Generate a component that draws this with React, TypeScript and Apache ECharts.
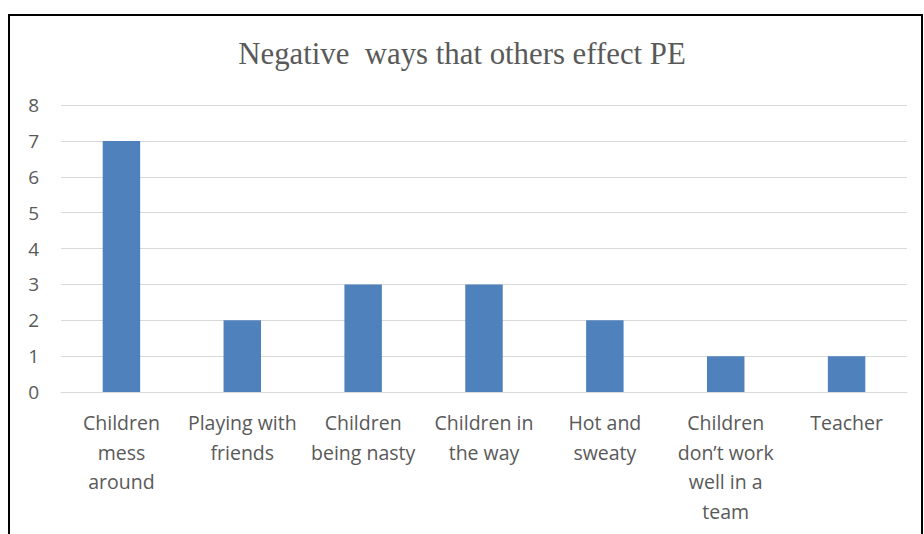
import React, { useEffect, useRef } from "react";
import * as echarts from "echarts";

const categories = [
  "Children\nmess\naround",
  "Playing with\nfriends",
  "Children\nbeing nasty",
  "Children in\nthe way",
  "Hot and\nsweaty",
  "Children\ndon’t work\nwell in a\nteam",
  "Teacher",
];
const values = [7, 2, 3, 3, 2, 1, 1];
const titleText = "Negative  ways that others effect PE";

export default function App() {
  const ref = useRef<HTMLDivElement>(null);
  useEffect(() => {
    const chart = echarts.init(ref.current!, undefined, { renderer: "svg" });
    chart.setOption({
      animation: false,
      backgroundColor: "#ffffff",
      title: {
        text: titleText,
        left: "center",
        top: 33,
        textStyle: {
          fontFamily: "Liberation Serif",
          fontSize: 30.8,
          fontWeight: "normal",
          color: "#595959",
        },
      },
      graphic: [
        {
          type: "rect",
          shape: { x: 9, y: 15, width: 913, height: 540 },
          style: { fill: "none", stroke: "#000000", lineWidth: 2 },
          silent: true,
        },
      ],
      grid: { left: 61, right: 17, top: 105, bottom: 142, containLabel: false },
      xAxis: {
        type: "category",
        data: categories,
        axisLine: { show: true, lineStyle: { color: "#D9D9D9", width: 1 } },
        axisTick: { show: false },
        axisLabel: {
          interval: 0,
          color: "#595959",
          fontFamily: "Open Sans",
          fontSize: 19.5,
          lineHeight: 29.5,
          margin: 16,
          align: "center",
        },
      },
      yAxis: {
        type: "value",
        min: 0,
        max: 8,
        interval: 1,
        axisLine: { show: false },
        axisTick: { show: false },
        splitLine: { lineStyle: { color: "#D9D9D9", width: 1 } },
        axisLabel: {
          color: "#595959",
          fontFamily: "Open Sans",
          fontSize: 19,
          margin: 22,
        },
      },
      series: [
        {
          type: "bar",
          data: values,
          barWidth: "31%",
          itemStyle: { color: "#4F81BD" },
        },
      ],
    });
    return () => chart.dispose();
  }, []);
  return (
    <div
      ref={ref}
      style={{ position: "fixed", left: 0, top: 0, width: 924, height: 534 }}
    />
  );
}
